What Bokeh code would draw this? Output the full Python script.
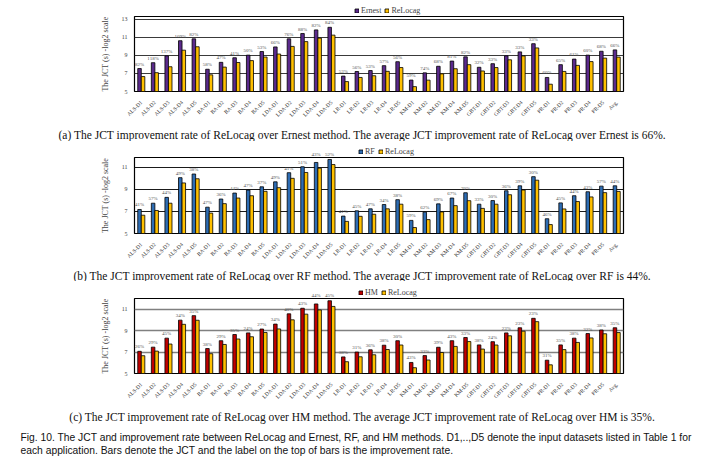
import math
from bokeh.plotting import figure
from bokeh.layouts import column
from bokeh.models import (ColumnDataSource, FactorRange, Range1d, Legend, LegendItem,
                          Label, FixedTicker)
from bokeh.transform import dodge
from bokeh.embed import file_html
from bokeh.resources import INLINE
from bokeh.core.properties import value

categories = ["ALS-D1", "ALS-D2", "ALS-D3", "ALS-D4", "ALS-D5",
              "BA-D1", "BA-D2", "BA-D3", "BA-D4", "BA-D5",
              "LDA-D1", "LDA-D2", "LDA-D3", "LDA-D4", "LDA-D5",
              "LR-D1", "LR-D2", "LR-D3", "LR-D4", "LR-D5",
              "KM-D1", "KM-D2", "KM-D3", "KM-D4", "KM-D5",
              "GBT-D1", "GBT-D2", "GBT-D3", "GBT-D4", "GBT-D5",
              "PR-D1", "PR-D2", "PR-D3", "PR-D4", "PR-D5", "Avg."]

relocag_jct = [6.66, 7.09, 7.75, 9.59, 9.97, 6.85, 7.71, 8.22, 8.43, 8.83,
               9.16, 10.01, 10.54, 10.93, 11.26, 6.10, 6.56, 6.75, 7.24, 7.66,
               5.54, 6.26, 6.96, 7.53, 7.98, 7.28, 7.66, 8.52, 8.95, 9.84,
               5.81, 7.23, 7.90, 8.32, 8.71, 8.82]

ernest_jct = [7.55, 8.20, 8.96, 10.64, 10.85, 7.47, 8.24, 8.75, 9.04, 9.44,
              9.95, 10.85, 11.44, 11.84, 12.13, 6.71, 7.22, 7.33, 7.87, 8.31,
              6.27, 7.07, 7.80, 8.38, 8.85, 7.69, 8.09, 8.96, 9.40, 10.31,
              6.56, 7.98, 8.60, 9.04, 9.47, 9.62]
ernest_rate = ["82%", "118%", "137%", "109%", "82%", "58%", "47%", "41%", "50%", "53%",
               "66%", "76%", "88%", "82%", "84%", "53%", "56%", "53%", "57%", "56%",
               "59%", "74%", "68%", "81%", "82%", "32%", "33%", "33%", "33%", "33%",
               "60%", "65%", "61%", "60%", "68%", "66%"]

rf_jct = [7.18, 7.75, 8.28, 10.07, 10.40, 7.39, 8.13, 8.67, 8.94, 9.24,
          9.69, 10.52, 11.06, 11.45, 11.72, 6.58, 7.06, 7.24, 7.63, 8.07,
          6.19, 6.94, 7.69, 8.22, 8.70, 7.66, 7.99, 8.88, 9.33, 10.16,
          6.34, 7.78, 8.43, 8.79, 9.30, 9.33]
rf_rate = ["41%", "57%", "44%", "49%", "38%", "47%", "36%", "44%", "47%", "37%",
           "49%", "41%", "51%", "43%", "52%", "41%", "45%", "47%", "34%", "38%",
           "59%", "62%", "69%", "67%", "70%", "33%", "30%", "36%", "39%", "30%",
           "46%", "45%", "44%", "43%", "57%", "44%"]

hm_jct = [7.07, 7.46, 8.30, 9.98, 10.40, 7.33, 8.06, 8.64, 8.79, 9.15,
          9.61, 10.57, 11.09, 11.49, 11.79, 6.55, 7.00, 7.21, 7.64, 8.06,
          6.03, 6.67, 7.45, 8.06, 8.36, 7.67, 7.97, 8.79, 9.27, 10.15,
          6.24, 7.67, 8.30, 8.73, 9.06, 9.27]
hm_rate = ["26%", "29%", "45%", "34%", "35%", "38%", "29%", "35%", "24%", "27%",
           "34%", "40%", "43%", "44%", "45%", "38%", "31%", "36%", "38%", "30%",
           "43%", "33%", "39%", "43%", "33%", "38%", "24%", "23%", "23%", "23%",
           "31%", "35%", "38%", "32%", "38%", "35%"]

captions = [
    "(a) The JCT improvement rate of ReLocag over Ernest method. The average JCT improvement rate of ReLocag over Ernest is 66%.",
    "(b) The JCT improvement rate of ReLocag over RF method. The average JCT improvement rate of ReLocag over RF is 44%.",
    "(c) The JCT improvement rate of ReLocag over HM method. The average JCT improvement rate of ReLocag over HM is 35%.",
]
fig_caption = [
    "Fig. 10. The JCT and improvement rate between ReLocag and Ernest, RF, and HM methods. D1,..,D5 denote the input datasets listed in Table 1 for",
    "each application. Bars denote the JCT and the label on the top of bars is the improvement rate.",
]

SERIF = "Liberation Serif"
SANS = "Liberation Sans"
RELOCAG_COLOR = "#FFC000"
W = 727
FRAME_L, FRAME_R = 134, 623
YMIN = 5
LABEL_ROOM = 8   # px a rate label needs above its bar


def blank(h):
    c = figure(width=W, height=h, x_range=Range1d(0, W), y_range=Range1d(0, h),
               x_axis_location=None, y_axis_location=None,
               min_border_left=0, min_border_right=0, min_border_top=0, min_border_bottom=0,
               frame_align=False, output_backend="svg", toolbar_location=None, tools="")
    c.grid.visible = False
    c.outline_line_color = None
    return c


def text_fig(lines, h, ys, x, align, font, size):
    c = blank(h)
    for t, y in zip(lines, ys):
        c.add_layout(Label(x=x, y=y, text=t, text_align=align, text_baseline="middle",
                           text_font=font, text_font_size=size, text_color="#111111"))
    return c


def add_rate_labels(p, src, y_offset):
    p.text(x=dodge("cat", -0.13, range=p.x_range), y="ly", text="rate", source=src,
           text_font=value(SERIF), text_font_size="5px", text_color="#555555",
           text_align="center", text_baseline="bottom", y_offset=y_offset)


def panel(name, vals, rates, color, ymax, ticks, grid_color, grid_width,
          top, frame_h, bottom, leg_h, leg_x):
    per_px = (ymax - YMIN) / frame_h
    y0 = ymax + top * per_px          # data value at the bottom of the strip above
    src = ColumnDataSource(dict(cat=categories, cmp=vals, rel=relocag_jct))
    tops = [max(a, b) for a, b in zip(vals, relocag_jct)]
    fits = [(ymax - t) / per_px >= LABEL_ROOM for t in tops]
    in_src = ColumnDataSource(dict(
        cat=[c for c, f in zip(categories, fits) if f],
        ly=[t for t, f in zip(tops, fits) if f],
        rate=[r for r, f in zip(rates, fits) if f]))
    up_src = ColumnDataSource(dict(
        cat=[c for c, f in zip(categories, fits) if not f],
        ly=[max(t, y0) for t, f in zip(tops, fits) if not f],
        rate=[r for r, f in zip(rates, fits) if not f]))

    p = figure(x_range=FactorRange(factors=categories), y_range=Range1d(YMIN, ymax),
               width=W, height=top + frame_h + bottom,
               min_border_left=FRAME_L, min_border_right=W - FRAME_R,
               min_border_top=top, min_border_bottom=bottom,
               output_backend="svg", toolbar_location=None, tools="")
    p.x_range.range_padding = 0
    p.vbar(x=dodge("cat", -0.13, range=p.x_range), top="cmp", bottom=YMIN, width=0.26,
           fill_color=color, line_color="black", line_width=0.8, source=src)
    p.vbar(x=dodge("cat", 0.13, range=p.x_range), top="rel", bottom=YMIN, width=0.26,
           fill_color=RELOCAG_COLOR, line_color="black", line_width=0.8, source=src)
    add_rate_labels(p, in_src, -2)
    p.xgrid.visible = False
    p.ygrid.grid_line_color = grid_color
    p.ygrid.grid_line_width = grid_width
    p.yaxis.ticker = FixedTicker(ticks=ticks)
    p.yaxis.axis_label = "The JCT (s) -log2 scale"
    p.yaxis.axis_label_text_font = SERIF
    p.yaxis.axis_label_text_font_style = "normal"
    p.yaxis.axis_label_text_font_size = "8px"
    p.yaxis.axis_label_standoff = 9
    p.yaxis.major_label_text_font = SERIF
    p.yaxis.major_label_text_font_size = "6px"
    p.yaxis.major_label_standoff = 1
    p.axis.axis_line_color = None
    p.axis.major_tick_line_color = None
    p.axis.minor_tick_line_color = None
    p.xaxis.major_label_orientation = math.pi / 4
    p.xaxis.major_label_text_font = SERIF
    p.xaxis.major_label_text_font_size = "5.5px"
    p.xaxis.major_label_text_color = "#333333"
    p.xaxis.major_label_standoff = 4
    p.outline_line_color = "black"
    p.outline_line_width = 1.2
    p.outline_line_alpha = 1

    # strip above the frame: same x scale and the y scale continued upward;
    # it holds the legend and the rate labels that rise above the frame
    s = figure(x_range=FactorRange(factors=categories), y_range=Range1d(y0, y0 + leg_h * per_px),
               width=W, height=leg_h, x_axis_location=None, y_axis_location=None,
               min_border_left=FRAME_L, min_border_right=W - FRAME_R,
               min_border_top=0, min_border_bottom=0,
               output_backend="svg", toolbar_location=None, tools="")
    s.x_range.range_padding = 0
    s.grid.visible = False
    s.outline_line_color = None
    s1 = s.vbar(x=dodge("cat", -0.13, range=s.x_range), top="cmp", bottom=YMIN, width=0.26,
                fill_color=color, line_color="black", line_width=0.8, source=src)
    s2 = s.vbar(x=dodge("cat", 0.13, range=s.x_range), top="rel", bottom=YMIN, width=0.26,
                fill_color=RELOCAG_COLOR, line_color="black", line_width=0.8, source=src)
    add_rate_labels(s, up_src, 0)
    legend = Legend(items=[LegendItem(label=name, renderers=[s1]),
                           LegendItem(label="ReLocag", renderers=[s2])],
                    location=(leg_x, 0), orientation="horizontal",
                    glyph_width=5, glyph_height=5, label_height=8, label_width=10,
                    label_standoff=2, spacing=3, padding=0, margin=0,
                    label_text_font=SERIF, label_text_font_size="8px",
                    border_line_color=None, background_fill_alpha=0)
    s.add_layout(legend)
    return s, p


la, pa = panel("Ernest", ernest_jct, ernest_rate, "#5B2A8C", 13.33, [5, 7, 9, 11, 13],
               "#3a3a3a", 1, 1, 76, 30, 15, 220)
ca = text_fig([captions[0]], 19, [7], 362, "center", SERIF, "11.5px")

lb, pb = panel("RF", rf_jct, rf_rate, "#2E6DB4", 11.9, [5, 7, 9, 11],
               "#1a1a1a", 1, 1, 76, 31, 15, 224)
cb = text_fig([captions[1]], 17, [6], 362, "center", SERIF, "11.5px")

lc, pc = panel("HM", hm_jct, hm_rate, "#C00000", 12.0, [5, 7, 9, 11],
               "#808080", 1.5, 1, 77, 29, 16, 224)
cc = text_fig([captions[2]], 22, [10], 362, "center", SERIF, "11.5px")

cf = text_fig(fig_caption, 44, [33, 20], 20, "left", SANS, "10.3px")

layout = column(la, pa, ca, lb, pb, cb, lc, pc, cc, cf, spacing=0)
open("out.html", "w").write(file_html(layout, INLINE))
